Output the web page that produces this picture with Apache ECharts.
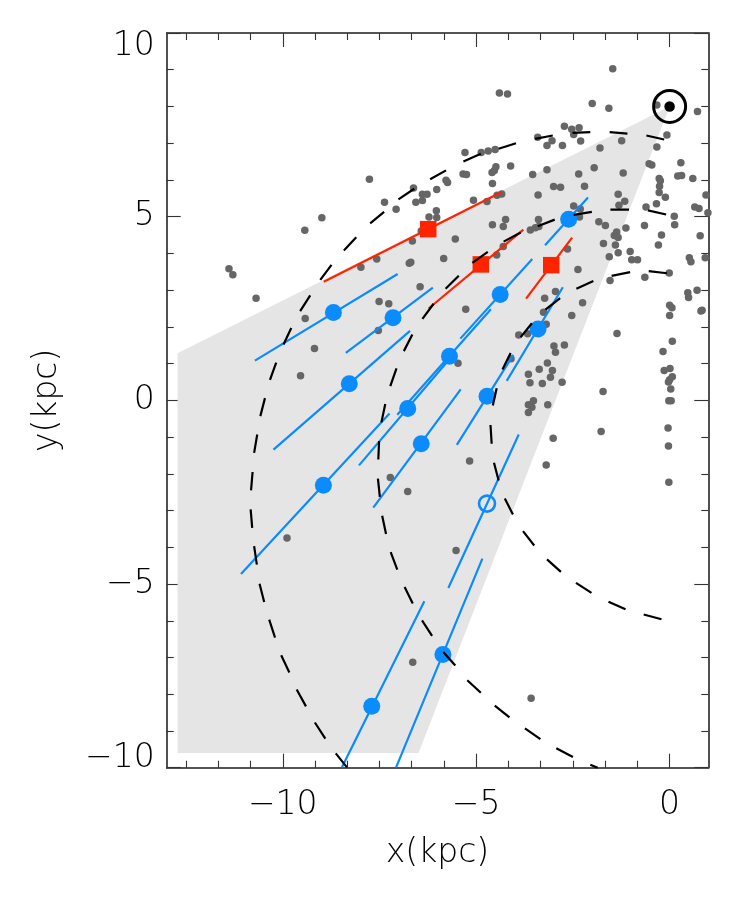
<!DOCTYPE html>
<html><head><meta charset="utf-8">
<style>html,body{margin:0;padding:0;background:#fff}#c{width:747px;height:900px}</style>
<script src="https://cdn.jsdelivr.net/npm/echarts@6/dist/echarts.min.js"></script>
</head><body><div id="c"></div>
<script>
const xMajor=[-10,-5,0];
const xMinor=[-12.5,-11.667,-10.833,-9.167,-8.333,-7.5,-6.667,-5.833,-4.167,-3.333,-2.5,-1.667,-0.833];
const yMajor=[-10,-5,0,5,10];
const yMinor=[-9,-8,-7,-6,-4,-3,-2,-1,1,2,3,4,6,7,8,9];
const fan=[[0,8.0],[-12.72,1.28],[-12.72,-9.6],[-6.49,-9.6]];
const sun=[[0,8.0]];
const stars=[[-7.76,6.02],[-8.99,4.97],[-9.43,4.63],[-11.39,3.58],[-11.29,3.42],[-10.69,2.78],[-6.62,5.78],[-7.37,5.39],[-7.07,5.20],[-6.39,5.61],[-6.27,5.61],[-6.56,5.39],[-6.39,5.44],[-6.02,5.74],[-6.03,5.16],[-6.22,4.99],[-6.02,4.98],[-6.42,4.61],[-6.65,4.34],[-7.57,3.85],[-7.98,3.62],[-6.69,3.76],[-6.73,3.73],[-6.45,3.09],[-7.51,2.69],[-7.26,2.63],
[-1.47,9.03],[-4.40,8.37],[-4.19,8.34],[-2.00,8.08],[-1.57,7.95],[-0.33,8.04],[0.72,7.86],[-2.72,7.46],[-2.53,7.38],[-2.34,7.42],[-2.48,7.24],[-3.41,7.16],[-3.04,7.07],[-3.17,6.94],[-2.77,6.94],[-2.30,7.06],[-1.24,7.07],[-0.07,7.22],[-0.33,6.90],[-1.80,6.87],[-5.29,6.75],[-4.87,6.75],[-4.69,6.79],[-4.51,6.83],[-4.49,6.36],[-4.53,6.26],[-4.59,6.20],[-4.11,6.38],[-5.78,5.99],[-5.74,5.93],[-5.34,6.16],[-5.25,6.15],[-4.58,5.90],[-3.54,6.15],[-3.17,6.28],[-2.35,6.16],[-1.95,6.33],[-1.20,6.19],[-0.53,6.44],[-0.46,6.41],[0.29,6.47],[0.21,6.11],[0.31,6.12],[0.60,6.04],[-0.27,6.04],[-0.24,5.98],[-0.26,5.83],[-0.27,5.66],[-0.11,5.53],[0.94,5.59],[-3.00,5.82],[-2.82,5.80],[-2.20,5.83],[-4.34,5.62],[-4.46,5.58],[-3.40,5.59],[-4.72,5.41],[-5.07,5.45],[-1.33,5.61],[-1.16,5.42],[-1.31,5.31],[-0.34,5.35],[-0.61,5.26],[-2.48,5.29],[0.65,5.26],[0.76,5.22],[0.99,5.11],[0.12,5.01],[0.13,4.78],[-0.65,4.76],[-0.21,4.50],[-0.29,4.23],[0.79,4.48],[0.51,3.88],[0.55,3.77],[0.92,3.88],[0.71,3.00],[0.47,2.93],[0.49,2.80],[0.84,2.45],
[-4.24,4.92],[-4.58,4.78],[-4.30,4.73],[-3.39,4.92],[-3.60,4.64],[-3.47,4.70],[-3.38,4.73],[-2.31,5.21],[-2.33,4.99],[-1.83,4.86],[-1.66,4.76],[-1.13,4.69],[-1.37,4.58],[-1.43,4.49],[-1.33,4.43],[-1.40,4.23],[-1.71,4.27],[-1.33,4.02],[-1.02,4.05],[-1.56,3.91],[-0.98,3.83],[-0.83,3.83],[-5.54,4.39],[-4.30,4.19],[-5.84,3.86],[-4.47,3.96],[-2.64,4.12],[-2.37,3.56],[-1.54,3.26],[-0.64,3.35],[-0.01,3.47],[-2.95,2.96],[-3.23,2.78],[-2.25,2.66],[-5.27,2.48],
[0,2.59],[0.06,2.52],[0,2.31],[0.81,2.43],[-3.26,2.40],[-2.53,2.31],[-3.19,2.07],[-3.90,1.78],[-3.67,1.81],[-1.36,1.82],[0.07,1.61],[-0.17,1.33],[-2.99,1.48],[-2.72,1.51],[-2.95,1.31],[-5.47,1.01],[-4.10,1.13],[-3.16,1.02],[-3.37,0.85],[-3.03,0.81],[-3.65,0.71],[-3.08,0.63],[-0.14,0.81],[0.01,0.87],[0.07,0.64],[0,0.56],[-0.03,0.50],[0.03,0.31],[-3.61,0.48],[-3.29,0.46],[-2.78,0.49],[-1.72,0.24],[-3.52,-0.01],[-3.65,-0.12],[-3.56,-0.19],[-3.65,-0.33],[-3.15,-0.12],[-0.02,-0.01],[0.04,-0.01],[-0.04,-0.75],[-1.77,-0.85],[-3.01,-1.03],[-0.03,-1.24],[-5.17,-1.65],[-3.19,-1.76],[-0.02,-2.23],
[-9.42,2.23],[-9.18,1.41],[-9.54,0.67],[-7.53,1.90],[-7.22,-2.10],[-6.77,-2.48],[-9.89,-3.75],[-5.52,-4.09],[-6.64,-7.13],[-3.58,-8.11]];
const blueFilled=[[-2.61,4.93],[-4.38,2.88],[-3.40,1.94],[-5.69,1.20],[-6.77,-0.22],[-4.72,0.11],[-6.42,-1.18],[-8.95,-2.31],[-8.28,0.45],[-8.69,2.39],[-7.15,2.25],[-5.86,-6.92],[-7.70,-8.33]];
const blueOpen=[[-4.72,-2.81]];
const redSquares=[[-6.24,4.66],[-4.88,3.70],[-3.06,3.68]];
const blueBars=[[[-3.22,4.22],[-2.11,5.52]],[[-5.41,1.68],[-3.55,3.85]],[[-4.21,0.53],[-2.76,3.08]],[[-7.04,-0.39],[-4.62,2.48]],[[-8.03,-1.77],[-5.54,1.31]],[[-5.50,-1.21],[-4.04,1.24]],[[-7.66,-2.92],[-5.40,0.30]],[[-11.08,-4.73],[-7.24,-0.36]],[[-10.24,-1.34],[-6.71,1.89]],[[-10.72,1.08],[-7.03,3.44]],[[-8.37,1.29],[-6.12,3.07]],[[-5.72,-5.11],[-3.90,-0.93]],[[-7.07,-9.99],[-4.84,-4.31]],[[-8.47,-9.99],[-6.34,-5.47]]];
const redBars=[[[-8.94,3.23],[-4.34,5.67]],[[-6.23,2.50],[-3.78,4.65]],[[-3.71,2.77],[-2.52,4.43]]];
const outerDashes=[[[-0.60,7.21],[-0.14,7.10]],[[-1.55,7.30],[-1.09,7.26]],[[-2.51,7.28],[-2.05,7.30]],[[-3.48,7.12],[-3.02,7.21]],[[-4.42,6.85],[-3.97,7.00]],[[-5.33,6.50],[-4.88,6.71]],[[-6.19,6.02],[-5.78,6.26]],[[-7.01,5.47],[-6.60,5.76]],[[-7.74,4.82],[-7.38,5.13]],[[-8.42,4.08],[-8.10,4.44]],[[-9.03,3.28],[-8.74,3.69]],[[-9.55,2.43],[-9.29,2.86]],[[-9.98,1.52],[-9.78,1.97]],[[-10.33,0.56],[-10.17,1.03]],[[-10.58,-0.43],[-10.46,0.06]],[[-10.74,-1.43],[-10.66,-0.93]],[[-10.82,-2.45],[-10.78,-1.95]],[[-10.83,-2.97],[-10.79,-3.47]],[[-10.74,-3.97],[-10.67,-4.47]],[[-10.60,-4.99],[-10.48,-5.49]],[[-10.35,-5.97],[-10.20,-6.46]],[[-10.04,-6.94],[-9.83,-7.41]],[[-9.64,-7.87],[-9.40,-8.33]],[[-9.17,-8.77],[-8.90,-9.21]],[[-8.63,-9.61],[-8.34,-9.99]]];
const middleDashes=[[[-0.56,5.17],[-0.09,5.06]],[[-1.53,5.19],[-1.05,5.19]],[[-2.48,5.05],[-2.01,5.13]],[[-3.41,4.74],[-2.97,4.92]],[[-4.29,4.32],[-3.85,4.57]],[[-5.10,3.74],[-4.70,4.04]],[[-5.79,3.04],[-5.45,3.39]],[[-6.39,2.22],[-6.10,2.63]],[[-6.87,1.34],[-6.65,1.79]],[[-7.22,0.39],[-7.06,0.87]],[[-7.45,-0.60],[-7.35,-0.10]],[[-7.53,-1.61],[-7.51,-1.11]],[[-7.54,-2.13],[-7.49,-2.63]],[[-7.43,-3.14],[-7.33,-3.64]],[[-7.21,-4.13],[-7.04,-4.61]],[[-6.85,-5.08],[-6.64,-5.53]],[[-6.40,-5.99],[-6.14,-6.41]],[[-5.85,-6.85],[-5.54,-7.22]],[[-5.23,-7.62],[-4.88,-7.96]],[[-4.52,-8.31],[-4.14,-8.63]],[[-3.74,-8.93],[-3.34,-9.22]],[[-2.93,-9.47],[-2.50,-9.71]],[[-2.05,-9.92],[-1.86,-10.0]]];
const innerDashes=[[[-0.54,3.52],[-0.07,3.46]],[[-1.50,3.39],[-1.02,3.49]],[[-2.41,3.04],[-1.97,3.25]],[[-3.21,2.47],[-2.83,2.78]],[[-3.85,1.72],[-3.56,2.10]],[[-4.32,0.84],[-4.11,1.29]],[[-4.57,-0.14],[-4.47,0.33]],[[-4.63,-0.67],[-4.60,-1.18]],[[-4.54,-1.70],[-4.42,-2.18]],[[-4.26,-2.67],[-4.05,-3.11]],[[-3.79,-3.56],[-3.50,-3.95]],[[-3.17,-4.33],[-2.81,-4.67]],[[-2.42,-4.97],[-2.02,-5.24]],[[-1.58,-5.48],[-1.14,-5.69]],[[-0.67,-5.83],[-0.21,-5.96]]];

const FONT='"DejaVu Sans"';
const W=200;
const minus=v=>v<0?'\u2212'+Math.abs(v):String(v);
const fontS={fontFamily:FONT,fontWeight:W,fontSize:33,color:'#000'};
const yLabel=v=>v===10?'{top|10}':v===-10?'{low|'+minus(v)+'}':minus(v);
const AXC='#4a4a4a';
const flat=segs=>segs.flatMap(s=>[s[0],s[1],[null,null]]);
const segSeries=(segs,color,w)=>({type:'line',data:flat(segs),symbol:'none',connectNulls:false,silent:true,lineStyle:{color:color,width:w,cap:'butt'},clip:true});
const xAx=(pos,vals,len,label)=>({type:'value',position:pos,min:-13,max:1,splitLine:{show:false},
  axisLine:{show:true,onZero:false,lineStyle:{color:AXC,width:1.6}},
  axisTick:{show:true,inside:true,length:len,customValues:vals,lineStyle:{color:'#333',width:1.1}},
  axisLabel:label?{show:true,customValues:vals,formatter:minus,...fontS,margin:21}:{show:false},
  ...(label?{name:'x(kpc)',nameLocation:'middle',nameGap:69,nameTextStyle:{...fontS}}:{})});
const yAx=(pos,vals,len,label)=>({type:'value',position:pos,min:-10,max:10,splitLine:{show:false},
  axisLine:{show:true,onZero:false,lineStyle:{color:AXC,width:1.6}},
  axisTick:{show:true,inside:true,length:len,customValues:vals,lineStyle:{color:'#333',width:1.1}},
  axisLabel:label?{show:true,customValues:vals,formatter:yLabel,...fontS,margin:12,
    rich:{top:{...fontS,padding:[27,0,0,0]},low:{...fontS,padding:[0,0,19,0]}}}:{show:false},
  ...(label?{name:'y(kpc)',nameLocation:'middle',nameGap:103,nameRotate:90,nameTextStyle:{...fontS}}:{})});

const chart=echarts.init(document.getElementById('c'),null,{renderer:'canvas'});
chart.setOption({
  animation:false,backgroundColor:'#fff',tooltip:{show:false},
  grid:{left:166.7,top:33,width:541.6,height:734.7,containLabel:false},
  xAxis:[xAx('bottom',xMajor,14,true),xAx('bottom',xMinor,7,false),xAx('top',xMajor,14,false),xAx('top',xMinor,7,false)],
  yAxis:[yAx('left',yMajor,14,true),yAx('left',yMinor,7,false),yAx('right',yMajor,14,false),yAx('right',yMinor,7,false)],
  series:[
    {type:'custom',silent:true,data:[0],clip:true,z:1,renderItem:(p,api)=>({type:'polygon',shape:{points:fan.map(q=>api.coord(q))},style:{fill:'#e5e5e5'}})},
    {type:'scatter',silent:true,data:stars,symbol:'circle',symbolSize:7.5,itemStyle:{color:'#666',opacity:1},z:2},
    {...segSeries(blueBars,'#0a8cff',2.2),z:3},
    {...segSeries(redBars,'#ff2400',2.2),z:3},
    {type:'scatter',silent:true,data:blueFilled,symbol:'circle',symbolSize:17,itemStyle:{color:'#0a8cff',opacity:1},z:4},
    {type:'scatter',silent:true,data:blueOpen,symbol:'circle',symbolSize:16,itemStyle:{color:'rgba(0,0,0,0)',borderColor:'#0a8cff',borderWidth:2.6,opacity:1},z:4},
    {type:'scatter',silent:true,data:redSquares,symbol:'rect',symbolSize:16.5,itemStyle:{color:'#ff2400',opacity:1},z:4},
    {...segSeries(outerDashes,'#000',2.2),z:5},
    {...segSeries(middleDashes,'#000',2.2),z:5},
    {...segSeries(innerDashes,'#000',2.2),z:5},
    {type:'scatter',silent:true,data:sun,symbol:'circle',symbolSize:32,itemStyle:{color:'rgba(0,0,0,0)',borderColor:'#000',borderWidth:3,opacity:1},z:6},
    {type:'scatter',silent:true,data:sun,symbol:'circle',symbolSize:10.5,itemStyle:{color:'#000',opacity:1},z:6}
  ]
});
</script></body></html>
